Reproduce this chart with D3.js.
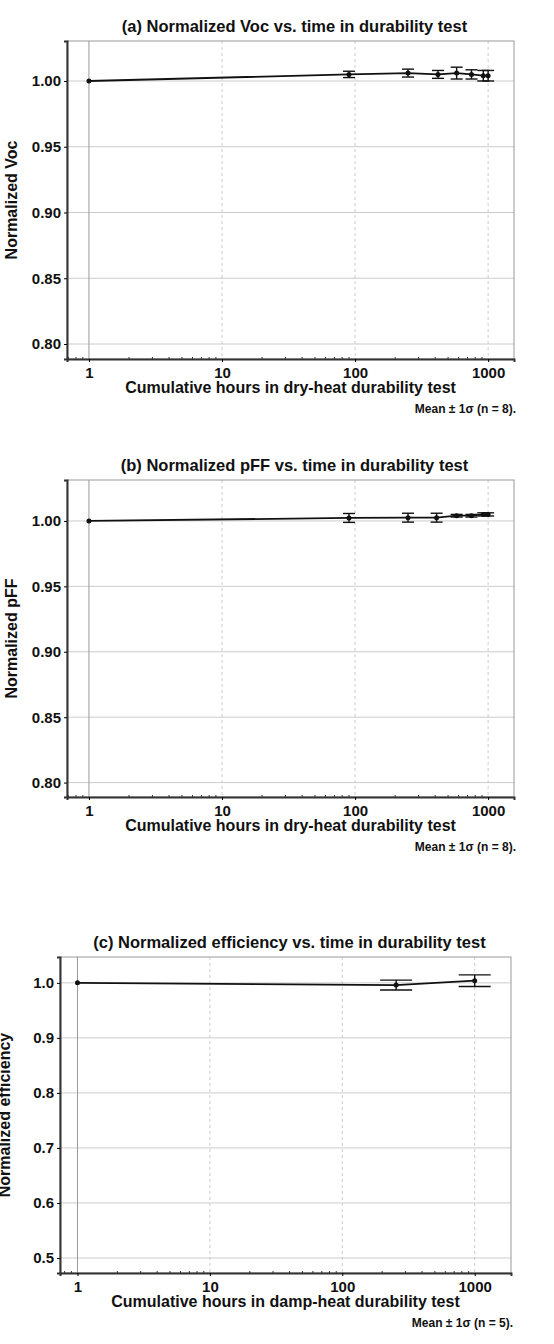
<!DOCTYPE html>
<html><head><meta charset="utf-8">
<script src="https://cdn.jsdelivr.net/npm/d3@7"></script>
<style>body{margin:0;background:#fff}text{font-family:"Liberation Sans",Arial,sans-serif;font-weight:bold;fill:#111}</style>
</head><body><svg id="c" width="554" height="1344"></svg>
<script>
// Panel (a)
const hoursA = [1, 90, 250, 420, 580, 750, 920, 1000];
const vocMean = [1.000, 1.005, 1.006, 1.005, 1.006, 1.005, 1.004, 1.004];
const vocSd   = [0, 0.0024, 0.003, 0.003, 0.0045, 0.0035, 0.004, 0.004];
const yTicksA = [0.80, 0.85, 0.90, 0.95, 1.00];
// Panel (b)
const hoursB = [1, 90, 250, 410, 580, 750, 920, 1000];
const pffMean = [1.000, 1.0023, 1.0025, 1.0025, 1.004, 1.004, 1.005, 1.005];
const pffSd   = [0, 0.0034, 0.0034, 0.0034, 0.001, 0.001, 0.0012, 0.0012];
const yTicksB = [0.80, 0.85, 0.90, 0.95, 1.00];
// Panel (c)
const hoursC = [1, 255, 1000];
const effMean = [1.000, 0.996, 1.004];
const effSd   = [0, 0.009, 0.0106];
const yTicksC = [0.5, 0.6, 0.7, 0.8, 0.9, 1.0];
const xTicks = [1, 10, 100, 1000];

const panels = [
 {title:"(a) Normalized Voc vs. time in durability test", ylab:"Normalized Voc", xlab:"Cumulative hours in dry-heat durability test", note:"Mean \u00b1 1\u03c3 (n = 8).",
  x:hoursA, m:vocMean, s:vocSd, yt:yTicksA, fmt:d3.format(".2f"), L:67, R:514, T:41, B:359, xd:[0.684,1565], yd:[0.7886,1.0304], cap:6},
 {title:"(b) Normalized pFF vs. time in durability test", ylab:"Normalized pFF", xlab:"Cumulative hours in dry-heat durability test", note:"Mean \u00b1 1\u03c3 (n = 8).",
  x:hoursB, m:pffMean, s:pffSd, yt:yTicksB, fmt:d3.format(".2f"), L:67, R:514, T:480, B:797, xd:[0.684,1565], yd:[0.789,1.0313], cap:6},
 {title:"(c) Normalized efficiency vs. time in durability test", ylab:"Normalized efficiency", xlab:"Cumulative hours in damp-heat durability test", note:"Mean \u00b1 1\u03c3 (n = 5).",
  x:hoursC, m:effMean, s:effSd, yt:yTicksC, fmt:d3.format(".1f"), L:60, R:511, T:957, B:1273, xd:[0.738,1880], yd:[0.4727,1.047], cap:16}
];
const svg = d3.select("#c");
panels.forEach(p=>{
  const x = d3.scaleLog().domain(p.xd).range([p.L,p.R]);
  const y = d3.scaleLinear().domain(p.yd).range([p.B,p.T]);
  const g = svg.append("g");
  g.selectAll(".hg").data(p.yt).join("line").attr("x1",p.L).attr("x2",p.R).attr("y1",d=>y(d)).attr("y2",d=>y(d)).attr("stroke","#ccc").attr("stroke-width",1);
  g.selectAll(".vg").data(xTicks).join("line").attr("x1",d=>x(d)).attr("x2",d=>x(d)).attr("y1",p.T).attr("y2",p.B)
    .attr("stroke",d=>d===1?"#999":"#ccc").attr("stroke-dasharray",d=>d===1?null:"3,3");
  g.append("rect").attr("x",p.L).attr("y",p.T).attr("width",p.R-p.L).attr("height",p.B-p.T).attr("fill","none").attr("stroke","#999");
  const xa = g.append("g").attr("transform",`translate(0,${p.B})`).call(d3.axisBottom(x).tickValues(xTicks).tickFormat(d3.format("d")).tickSize(3));
  const minor = [];
  for (let dec=0.1; dec<=1000; dec*=10) for (let k=2;k<=9;k++){const v=dec*k; if(v>p.xd[0]&&v<p.xd[1]) minor.push(v);}
  g.selectAll(".mt").data(minor).join("line").attr("x1",d=>x(d)).attr("x2",d=>x(d)).attr("y1",p.B).attr("y2",p.B-2).attr("stroke","#333");
  xa.select(".domain").attr("stroke","#333").attr("stroke-width",2);
  xa.selectAll("text").attr("font-size",15).attr("dy","0.85em");
  const ya = g.append("g").attr("transform",`translate(${p.L},0)`).call(d3.axisLeft(y).tickValues(p.yt).tickFormat(p.fmt).tickSize(3));
  ya.select(".domain").attr("stroke","#333").attr("stroke-width",2);
  ya.selectAll("text").attr("font-size",15);
  g.append("text").attr("x",(p.L+p.R)/2+4).attr("y",p.T-9).attr("text-anchor","middle").attr("font-size",16.5).text(p.title);
  g.append("text").attr("x",(p.L+p.R)/2).attr("y",p.B+34).attr("text-anchor","middle").attr("font-size",16).text(p.xlab);
  g.append("text").attr("x",p.R+2).attr("y",p.B+54).attr("text-anchor","end").attr("font-size",12).text(p.note);
  g.append("text").attr("transform",`translate(${p.L-50},${(p.T+p.B)/2}) rotate(-90)`).attr("text-anchor","middle").attr("font-size",16).text(p.ylab);
  const pts = p.x.map((h,i)=>({h, m:p.m[i], s:p.s[i]}));
  g.append("path").datum(pts).attr("fill","none").attr("stroke","#111").attr("stroke-width",1.8)
    .attr("d", d3.line().x(d=>x(d.h)).y(d=>y(d.m)));
  const eb = g.selectAll(".eb").data(pts.filter(d=>d.s>0)).join("g");
  eb.append("line").attr("x1",d=>x(d.h)).attr("x2",d=>x(d.h)).attr("y1",d=>y(d.m-d.s)).attr("y2",d=>y(d.m+d.s)).attr("stroke","#111").attr("stroke-width",1.4);
  eb.append("line").attr("x1",d=>x(d.h)-p.cap).attr("x2",d=>x(d.h)+p.cap).attr("y1",d=>y(d.m-d.s)).attr("y2",d=>y(d.m-d.s)).attr("stroke","#111").attr("stroke-width",1.4);
  eb.append("line").attr("x1",d=>x(d.h)-p.cap).attr("x2",d=>x(d.h)+p.cap).attr("y1",d=>y(d.m+d.s)).attr("y2",d=>y(d.m+d.s)).attr("stroke","#111").attr("stroke-width",1.4);
  g.selectAll(".pt").data(pts).join("circle").attr("cx",d=>x(d.h)).attr("cy",d=>y(d.m)).attr("r",2.5).attr("fill","#111");
});
</script></body></html>
